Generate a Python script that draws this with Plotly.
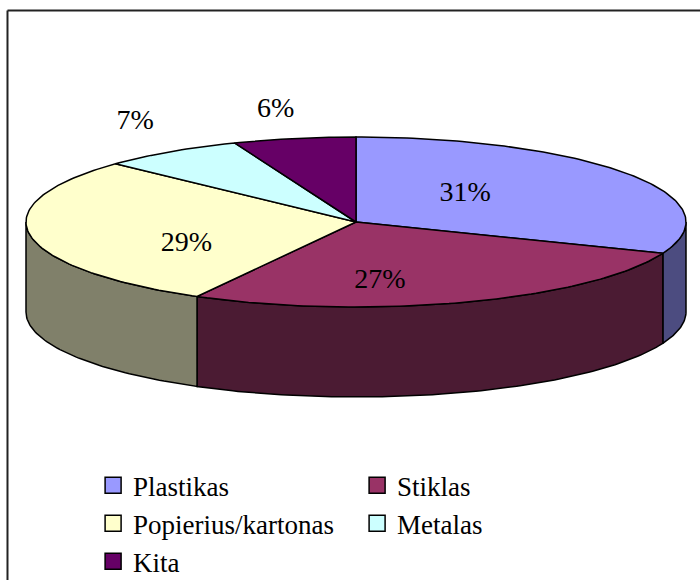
import math
import plotly.graph_objects as go

# ---- data ----
categories = ["Plastikas", "Stiklas", "Popierius/kartonas", "Metalas", "Kita"]
values = [31, 27, 29, 7, 6]
label_texts = ["31%", "27%", "29%", "7%", "6%"]

# ---- style ----
top_colors = ["#9999FF", "#993366", "#FFFFCC", "#CCFFFF", "#660066"]
side_colors = ["#4C4C80", "#4B1B33", "#80806A", "#66807F", "#330033"]
label_radius = [0.40, 0.215, 0.52, 1.19, 1.30]
label_dy = [-9, 42, 15, -16, -3]

CX, CY = 356, 222      # centre of top ellipse (plot units)
RX, RY = 330, 85       # ellipse radii
DEPTH = 90             # thickness of the pie
FONT = "'Times New Roman', 'Liberation Serif', 'DejaVu Serif', serif"

def pt(t, dy=0.0):
    return CX + RX * math.cos(t), CY - RY * math.sin(t) + dy

def arc(t0, t1, dy=0.0, n=None):
    if n is None:
        n = max(2, int(abs(t1 - t0) / (math.pi / 180)) + 2)
    xs, ys = [], []
    for k in range(n + 1):
        t = t0 + (t1 - t0) * k / n
        x, y = pt(t, dy)
        xs.append(x)
        ys.append(y)
    return xs, ys

total = float(sum(values))
bounds = []
acc = 0.0
for v in values:
    t_start = math.pi / 2 - 2 * math.pi * acc / total
    acc += v
    t_end = math.pi / 2 - 2 * math.pi * acc / total
    bounds.append((t_start, t_end))

fig = go.Figure()
line = dict(color="black", width=1.5)

# side walls (front half only)
for i, (ts, te) in enumerate(bounds):
    hi = min(ts, 0.0)
    lo = max(te, -math.pi)
    if lo < hi:
        x1, y1 = arc(hi, lo)
        x2, y2 = arc(lo, hi, DEPTH)
        fig.add_trace(go.Scatter(
            x=x1 + x2 + [x1[0]], y=y1 + y2 + [y1[0]], mode="lines",
            fill="toself", fillcolor=side_colors[i], line=line,
            showlegend=False, hoverinfo="skip"))

# top faces
for i, (ts, te) in enumerate(bounds):
    xa, ya = arc(ts, te)
    fig.add_trace(go.Scatter(
        x=[CX] + xa + [CX], y=[CY] + ya + [CY], mode="lines",
        fill="toself", fillcolor=top_colors[i], line=line,
        showlegend=False, name=categories[i],
        hovertemplate=f"{categories[i]}: {values[i]}%<extra></extra>"))

# labels
lx, ly = [], []
for i, (ts, te) in enumerate(bounds):
    tm = (ts + te) / 2
    f = label_radius[i]
    lx.append(CX + RX * f * math.cos(tm))
    ly.append(CY - RY * f * math.sin(tm) + label_dy[i])
fig.add_trace(go.Scatter(
    x=lx, y=ly, mode="text", text=label_texts,
    textfont=dict(family=FONT, size=28, color="black"),
    showlegend=False, hoverinfo="skip"))

# legend entries
for i, c in enumerate(categories):
    fig.add_trace(go.Scatter(
        x=[None], y=[None], mode="markers", name=c,
        marker=dict(symbol="square", size=16, color=top_colors[i],
                    line=dict(color="black", width=1.5))))

# frame lines (border of chart area)
fig.add_shape(type="line", xref="paper", yref="paper", x0=0.0107, x1=1.0,
              y0=1 - 10.5 / 580, y1=1 - 10.5 / 580,
              line=dict(color="#222222", width=2))
fig.add_shape(type="line", xref="paper", yref="paper", x0=0.0107, x1=0.0107,
              y0=0, y1=1 - 10.5 / 580, line=dict(color="#222222", width=2))

fig.update_layout(
    width=700, height=580,
    margin=dict(l=0, r=0, t=0, b=0, autoexpand=False),
    paper_bgcolor="white", plot_bgcolor="white",
    font=dict(family=FONT, color="black"),
    xaxis=dict(range=[0, 700], visible=False, fixedrange=True),
    yaxis=dict(range=[580, 0], visible=False, fixedrange=True),
    showlegend=True,
    legend=dict(orientation="h", x=0.133, xanchor="left", y=0.205,
                yanchor="top", entrywidth=219, entrywidthmode="pixels",
                font=dict(family=FONT, size=27, color="black"),
                itemsizing="trace", tracegroupgap=0,
                bgcolor="rgba(0,0,0,0)"),
)

fig.write_html(
    "out.html",
    config={"displayModeBar": False},
    post_script="document.body.style.margin='0';document.body.style.overflow='hidden';",
)
